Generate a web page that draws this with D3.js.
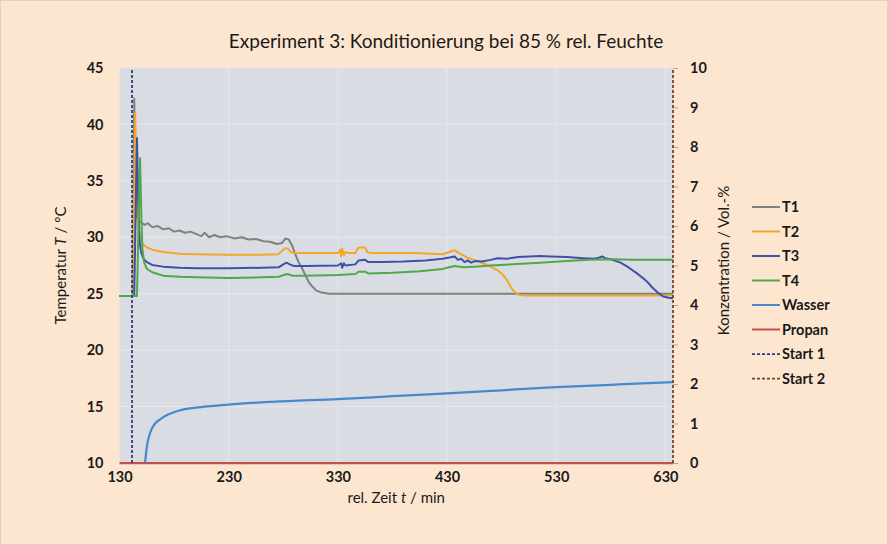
<!DOCTYPE html>
<html>
<head>
<meta charset="utf-8">
<script src="https://cdn.jsdelivr.net/npm/d3@7/dist/d3.min.js"></script>
<style>
  html, body { margin: 0; padding: 0; background: #fde6d0; }
  svg { display: block; font-family: Lato, "Open Sans", sans-serif; }
</style>
</head>
<body>
<svg id="chart" width="888" height="545"></svg>
<script>
// Zeitachse in min, Temperaturen in °C, Konzentrationen in Vol.-%
const t1Time = [130, 142.0, 142.8, 143.5, 144.6, 145.6, 147, 150, 153, 156, 160, 165, 170, 175, 180, 185, 190, 195, 200, 205, 208, 212, 217, 222, 228, 235, 242, 248, 255, 262, 268, 274, 279, 282, 285, 288, 291, 294, 297, 300, 303, 306, 310, 315, 322, 330, 637];
const t1Temp = [24.8, 24.8, 33, 42.3, 36, 32.0, 31.5, 31.3, 31.1, 31.25, 30.9, 31.0, 30.7, 30.8, 30.5, 30.6, 30.4, 30.5, 30.3, 30.1, 30.4, 30.0, 30.2, 30.0, 30.1, 29.9, 30.0, 29.8, 29.85, 29.65, 29.6, 29.4, 29.5, 29.9, 29.8, 29.3, 28.5, 27.8, 27.3, 26.7, 26.1, 25.7, 25.3, 25.1, 25.0, 25.0, 25.0];

const t2Time = [130, 142.6, 143.4, 144.4, 145.5, 146.8, 148.5, 151, 155, 160, 170, 185, 200, 230, 260, 275, 278, 281, 284, 287, 290, 330, 332, 333, 334, 335.5, 337, 340, 346, 348, 350, 355, 357, 360, 400, 426, 432, 437, 441, 445, 448.5, 455, 463, 470, 476, 481, 485, 489, 492, 496, 500, 637];
const t2Temp = [24.8, 24.8, 33, 41.0, 36, 31.5, 30.0, 29.4, 29.1, 28.9, 28.7, 28.55, 28.5, 28.45, 28.45, 28.5, 28.7, 29.0, 29.0, 28.7, 28.6, 28.6, 28.9, 28.3, 29.0, 28.4, 28.7, 28.6, 28.6, 29.0, 29.1, 29.1, 28.7, 28.6, 28.6, 28.5, 28.7, 28.85, 28.6, 28.4, 28.2, 28.0, 27.7, 27.4, 27.1, 26.7, 26.2, 25.5, 25.15, 24.9, 24.85, 24.85];

const t3Time = [130, 143.5, 144.6, 146, 147.2, 148.5, 150, 152, 155, 160, 170, 185, 200, 230, 260, 276, 280, 283, 286, 290, 300, 330, 333, 334, 335.5, 337, 346, 349, 355, 358, 370, 390, 410, 426, 432, 437, 440, 443, 446, 449, 452, 456, 462, 470, 476, 485, 495, 505, 515, 525, 540, 555, 565, 569, 572, 575, 580, 589, 596, 604, 610, 614, 618, 623, 628, 633, 637];
const t3Temp = [24.8, 24.8, 31, 38.8, 33, 29.5, 28.6, 28.1, 27.8, 27.55, 27.4, 27.3, 27.25, 27.25, 27.3, 27.35, 27.6, 27.75, 27.6, 27.45, 27.45, 27.5, 27.7, 27.3, 27.7, 27.5, 27.6, 27.95, 28.0, 27.8, 27.8, 27.85, 27.95, 28.1, 28.2, 28.3, 28.0, 28.1, 27.8, 27.95, 27.75, 27.9, 27.85, 28.0, 28.15, 28.1, 28.25, 28.3, 28.35, 28.3, 28.25, 28.15, 28.1, 28.2, 28.3, 28.15, 28.05, 27.75, 27.35, 26.8, 26.35, 26.0, 25.55, 25.1, 24.75, 24.65, 24.6];

const t4Time = [130, 146, 147.2, 148.8, 150, 151, 152.5, 155, 160, 170, 185, 200, 230, 260, 276, 280, 284, 288, 300, 330, 346, 349, 355, 358, 380, 405, 426, 432, 437, 445, 455, 470, 490, 515, 540, 560, 580, 600, 637];
const t4Temp = [24.8, 24.8, 30, 37.0, 32, 29.0, 27.8, 27.2, 26.9, 26.6, 26.5, 26.45, 26.4, 26.45, 26.5, 26.65, 26.75, 26.6, 26.6, 26.65, 26.75, 26.95, 26.95, 26.8, 26.85, 27.0, 27.2, 27.35, 27.45, 27.35, 27.4, 27.5, 27.6, 27.75, 27.9, 28.0, 28.05, 28.0, 28.0];

const wasserTime = [153.4, 155, 158, 162, 167, 174, 185, 200, 230, 270, 330, 380, 430, 480, 530, 580, 637];
const wasserConc = [0, 0.4, 0.76, 0.98, 1.1, 1.22, 1.33, 1.4, 1.48, 1.55, 1.62, 1.69, 1.76, 1.84, 1.92, 1.98, 2.05];

const propanTime = [130, 637];
const propanConc = [0, 0];

const start1Time = [141.5, 141.5];
const start2Time = [637, 637];
const startConc = [0, 10];

const xTicks = [130, 230, 330, 430, 530, 630];
const yTicksLeft = [10, 15, 20, 25, 30, 35, 40, 45];
const yTicksRight = [0, 1, 2, 3, 4, 5, 6, 7, 8, 9, 10];

const legendNames = ["T1", "T2", "T3", "T4", "Wasser", "Propan", "Start 1", "Start 2"];
const seriesColors = ["#808080", "#f3a72a", "#3f51a6", "#4fa84a", "#4a88cc", "#c0504d", "#2a3b78", "#7a3a2c"];

// Plot geometry
const W = 888, H = 545;
const plot = { left: 119.5, right: 673, top: 68, bottom: 463 };

const svg = d3.select("#chart");

// chart background and frame
svg.append("rect").attr("x", 0.5).attr("y", 0.5).attr("width", W - 1).attr("height", H - 1)
  .attr("fill", "#fde6d0").attr("stroke", "#e2cfbc").attr("stroke-width", 1);

const x = d3.scaleLinear().domain([130, 637]).range([plot.left, plot.right]);
const yL = d3.scaleLinear().domain([10, 45]).range([plot.bottom, plot.top]);
const yR = d3.scaleLinear().domain([0, 10]).range([plot.bottom, plot.top]);

// plot area
svg.append("rect").attr("x", plot.left).attr("y", plot.top)
  .attr("width", plot.right - plot.left).attr("height", plot.bottom - plot.top)
  .attr("fill", "#d9dde3");

// gridlines
const grid = svg.append("g");
grid.selectAll("line.h").data(yTicksLeft.slice(1)).join("line")
  .attr("x1", plot.left).attr("x2", plot.right)
  .attr("y1", d => yL(d)).attr("y2", d => yL(d))
  .attr("stroke", "#e6e8eb").attr("stroke-width", 1);
grid.selectAll("line.v").data(xTicks.slice(1)).join("line")
  .attr("y1", plot.top).attr("y2", plot.bottom)
  .attr("x1", d => x(d)).attr("x2", d => x(d))
  .attr("stroke", "#e6e8eb").attr("stroke-width", 1);

// axes
const tickFont = sel => sel.attr("font-size", 14.5).attr("font-weight", "bold").attr("fill", "#1a1a1a")
  .attr("font-family", "Lato, 'Open Sans', sans-serif");

const xAxis = d3.axisBottom(x).tickValues(xTicks).tickSize(0).tickPadding(9).tickFormat(d3.format("d"));
svg.append("g").attr("transform", `translate(0,${plot.bottom})`).call(xAxis)
  .call(g => g.select(".domain").remove())
  .selectAll("text").call(tickFont);

const yAxisL = d3.axisLeft(yL).tickValues(yTicksLeft).tickSize(0).tickPadding(16);
svg.append("g").attr("transform", `translate(${plot.left},0)`).call(yAxisL)
  .call(g => g.select(".domain").remove())
  .selectAll("text").call(tickFont);

const yAxisR = d3.axisRight(yR).tickValues(yTicksRight).tickSize(5).tickPadding(12);
svg.append("g").attr("transform", `translate(${plot.right},0)`).call(yAxisR)
  .call(g => g.select(".domain").remove())
  .call(g => g.selectAll(".tick line").attr("stroke", "#a9a9a9"))
  .selectAll("text").call(tickFont).attr("text-anchor", "start");

// series lines
const lineL = d3.line().x(d => x(d[0])).y(d => yL(d[1]));
const lineR = d3.line().x(d => x(d[0])).y(d => yR(d[1]));
const lineRSmooth = d3.line().x(d => x(d[0])).y(d => yR(d[1])).curve(d3.curveMonotoneX);
const zip = (a, b) => a.map((v, i) => [v, b[i]]);

const tempSeries = [zip(t1Time, t1Temp), zip(t2Time, t2Temp), zip(t3Time, t3Temp), zip(t4Time, t4Temp)];
const lines = svg.append("g");
tempSeries.forEach((s, i) => {
  lines.append("path").datum(s).attr("d", lineL).attr("fill", "none")
    .attr("stroke", seriesColors[i]).attr("stroke-width", 2).attr("stroke-linejoin", "round");
});
lines.append("path").datum(zip(wasserTime, wasserConc)).attr("d", lineRSmooth).attr("fill", "none")
  .attr("stroke", seriesColors[4]).attr("stroke-width", 2.25);
lines.append("path").datum(zip(propanTime, propanConc)).attr("d", lineR).attr("fill", "none")
  .attr("stroke", seriesColors[5]).attr("stroke-width", 2.25);
lines.append("path").datum(zip(start1Time, startConc)).attr("d", lineR).attr("fill", "none")
  .attr("stroke", seriesColors[6]).attr("stroke-width", 1.75).attr("stroke-dasharray", "3,2");
lines.append("path").datum(zip(start2Time, startConc)).attr("d", lineR).attr("fill", "none")
  .attr("stroke", seriesColors[7]).attr("stroke-width", 1.75).attr("stroke-dasharray", "3,2");

// title
svg.append("text").attr("x", 446).attr("y", 48).attr("text-anchor", "middle")
  .attr("font-size", 19).attr("fill", "#1a1a1a").text("Experiment 3: Konditionierung bei 85 % rel. Feuchte");

// axis titles
const yTitle = svg.append("text").attr("transform", `translate(66,${(plot.top + plot.bottom) / 2}) rotate(-90)`)
  .attr("text-anchor", "middle").attr("font-size", 15).attr("fill", "#1a1a1a");
yTitle.append("tspan").text("Temperatur ");
yTitle.append("tspan").attr("font-style", "italic").text("T");
yTitle.append("tspan").text(" / °C");

const xTitle = svg.append("text").attr("x", (plot.left + plot.right) / 2).attr("y", 503)
  .attr("text-anchor", "middle").attr("font-size", 15).attr("fill", "#1a1a1a");
xTitle.append("tspan").text("rel. Zeit ");
xTitle.append("tspan").attr("font-style", "italic").text("t");
xTitle.append("tspan").text("  / min");

svg.append("text").attr("transform", `translate(729,${(plot.top + plot.bottom) / 2 - 5}) rotate(-90)`)
  .attr("text-anchor", "middle").attr("font-size", 15).attr("fill", "#1a1a1a")
  .text("Konzentration / Vol.-%");

// legend
const legend = svg.append("g");
const legY0 = 207, legStep = 24.5;
legendNames.forEach((name, i) => {
  const yy = legY0 + i * legStep;
  legend.append("line").attr("x1", 752).attr("x2", 780).attr("y1", yy).attr("y2", yy)
    .attr("stroke", seriesColors[i]).attr("stroke-width", i < 6 ? 2 : 1.75)
    .attr("stroke-dasharray", i >= 6 ? "3,2" : null);
  legend.append("text").attr("x", 782).attr("y", yy).attr("dy", "0.35em")
    .attr("font-size", 14.5).attr("font-weight", "bold").attr("fill", "#1a1a1a").text(name);
});
</script>
</body>
</html>
